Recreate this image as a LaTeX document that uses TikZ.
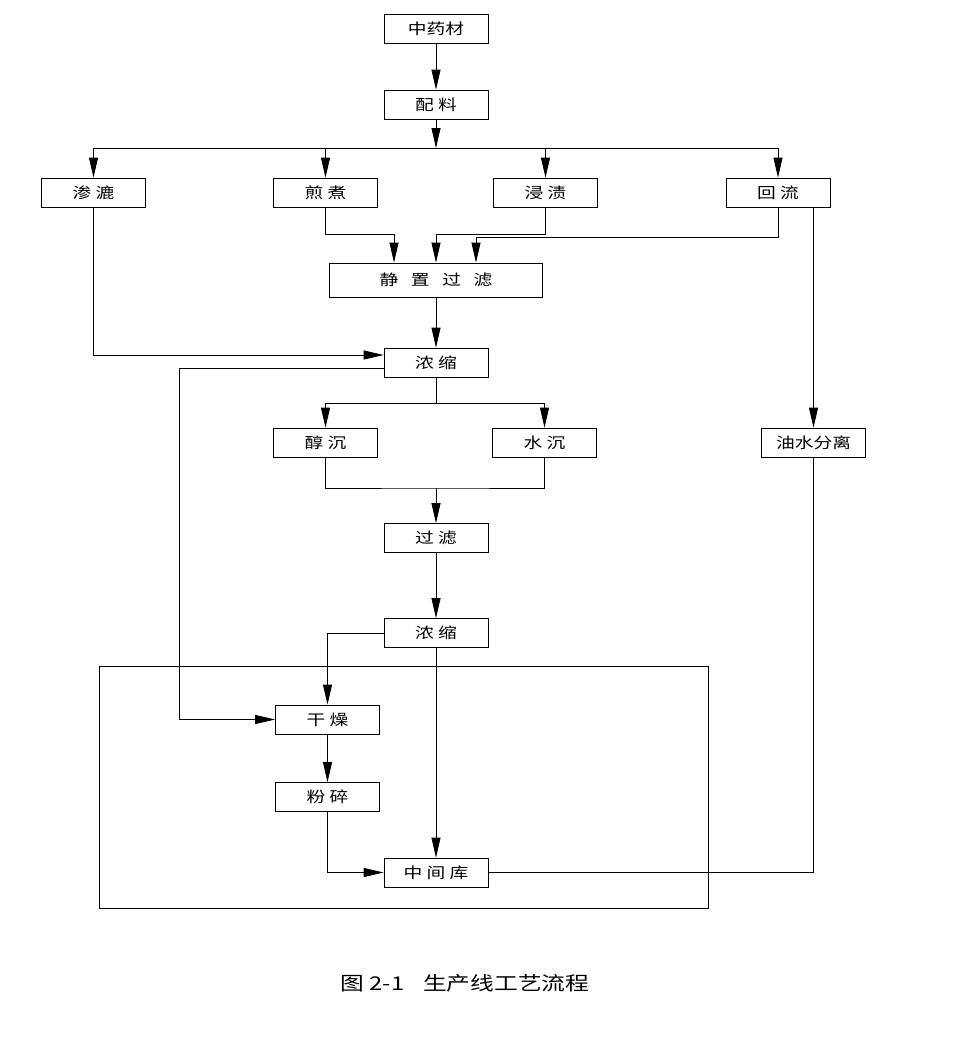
\documentclass[tikz,border=0pt]{standalone}
\usepackage{fontspec}
\setmainfont{Noto Sans CJK SC}[FakeStretch=1.25]
\usetikzlibrary{arrows.meta}

\begin{document}
\begin{tikzpicture}[x=1pt, y=-1pt, line width=0.8pt]
\tikzset{
    every node/.style={align=center, font=\fontsize{15pt}{17pt}\selectfont},
    stepbox/.style={draw, minimum width=104pt, minimum height=29pt, inner sep=0pt},
    widebox/.style={stepbox, minimum width=213pt, minimum height=34pt},
    arr/.style={-{Triangle[length=20pt, width=9pt]}}
}
\useasboundingbox (0,0) rectangle (967,1047);

% main column
\node[stepbox] (med) at (436,28.5) {中药材};
\node[stepbox] (peiliao) at (436,104.5) {配~料};
\coordinate (split) at (436,148);

% four ways of extraction
\node[stepbox] (shenlu) at (93.5,192.5) {渗~漉};
\node[stepbox] (jianzhu) at (325.5,192.5) {煎~煮};
\node[stepbox] (jinzi) at (545.5,192.5) {浸~渍};
\node[stepbox] (huiliu) at (778,192.5) {回~流};

\node[widebox] (jingzhi) at (436,280) {静~~~置~~~过~~~滤};
\node[stepbox] (nongsuo1) at (436,362.5) {浓~缩};
\coordinate (split2) at (436,403);
\node[stepbox] (chunchen) at (325.5,442.5) {醇~沉};
\node[stepbox] (shuichen) at (544.5,442.5) {水~沉};
\node[stepbox] (youshui) at (813.5,442.5) {油水分离};
\coordinate (merge) at (436,488);
\node[stepbox] (guolv) at (436,538) {过~滤};
\node[stepbox] (nongsuo2) at (436,633) {浓~缩};

% workshop
\draw (99,666) rectangle (708,908);
\node[stepbox] (ganzao) at (327.5,719.5) {干~燥};
\node[stepbox] (fensui) at (327.5,797) {粉~碎};
\node[stepbox] (zhongjian) at (436,872.5) {中~间~库};

\node[font=\fontsize{19pt}{22pt}\selectfont] (caption) at (465,983) {图 2-1\quad 生产线工艺流程};

% connectors
\draw[arr] (med) -- (peiliao);
\draw[arr] (peiliao) -- (split);
\draw (shenlu.north |- split) -- (huiliu.north |- split);
\foreach \n in {shenlu, jianzhu, jinzi, huiliu}
    \draw[arr] (split) -| (\n);

\draw[arr] (jianzhu.south) -- ++(0,27) -| ([xshift=-42pt]jingzhi.north);
\draw[arr] (jinzi.south) -- ++(0,27) -| (jingzhi.north);
\draw[arr] (huiliu.south) -- ++(0,30) -| ([xshift=40pt]jingzhi.north);
\draw[arr] (huiliu.south -| youshui.north) -- (youshui.north);

\draw[arr] (jingzhi) -- (nongsuo1);
\draw[arr] (shenlu) |- ([yshift=7.5pt]nongsuo1.west);
\draw[arr] ([yshift=-6pt]nongsuo1.west) -- ++(-204,0) |- (ganzao.west);

\draw (nongsuo1) -- (split2);
\draw[arr] (split2) -| (chunchen);
\draw[arr] (split2) -| (shuichen);
\draw (chunchen) |- (merge) -| (shuichen);
\draw[arr] (merge) -- (guolv);
\draw[arr] (guolv) -- (nongsuo2);

\draw[arr] (nongsuo2.west) -| (ganzao);
\draw[arr] (nongsuo2) -- (zhongjian);
\draw[arr] (ganzao) -- (fensui);
\draw[arr] (fensui) |- (zhongjian.west);
\draw[line width=1.4pt] (zhongjian.east) -| (youshui.south);
\end{tikzpicture}
\end{document}
